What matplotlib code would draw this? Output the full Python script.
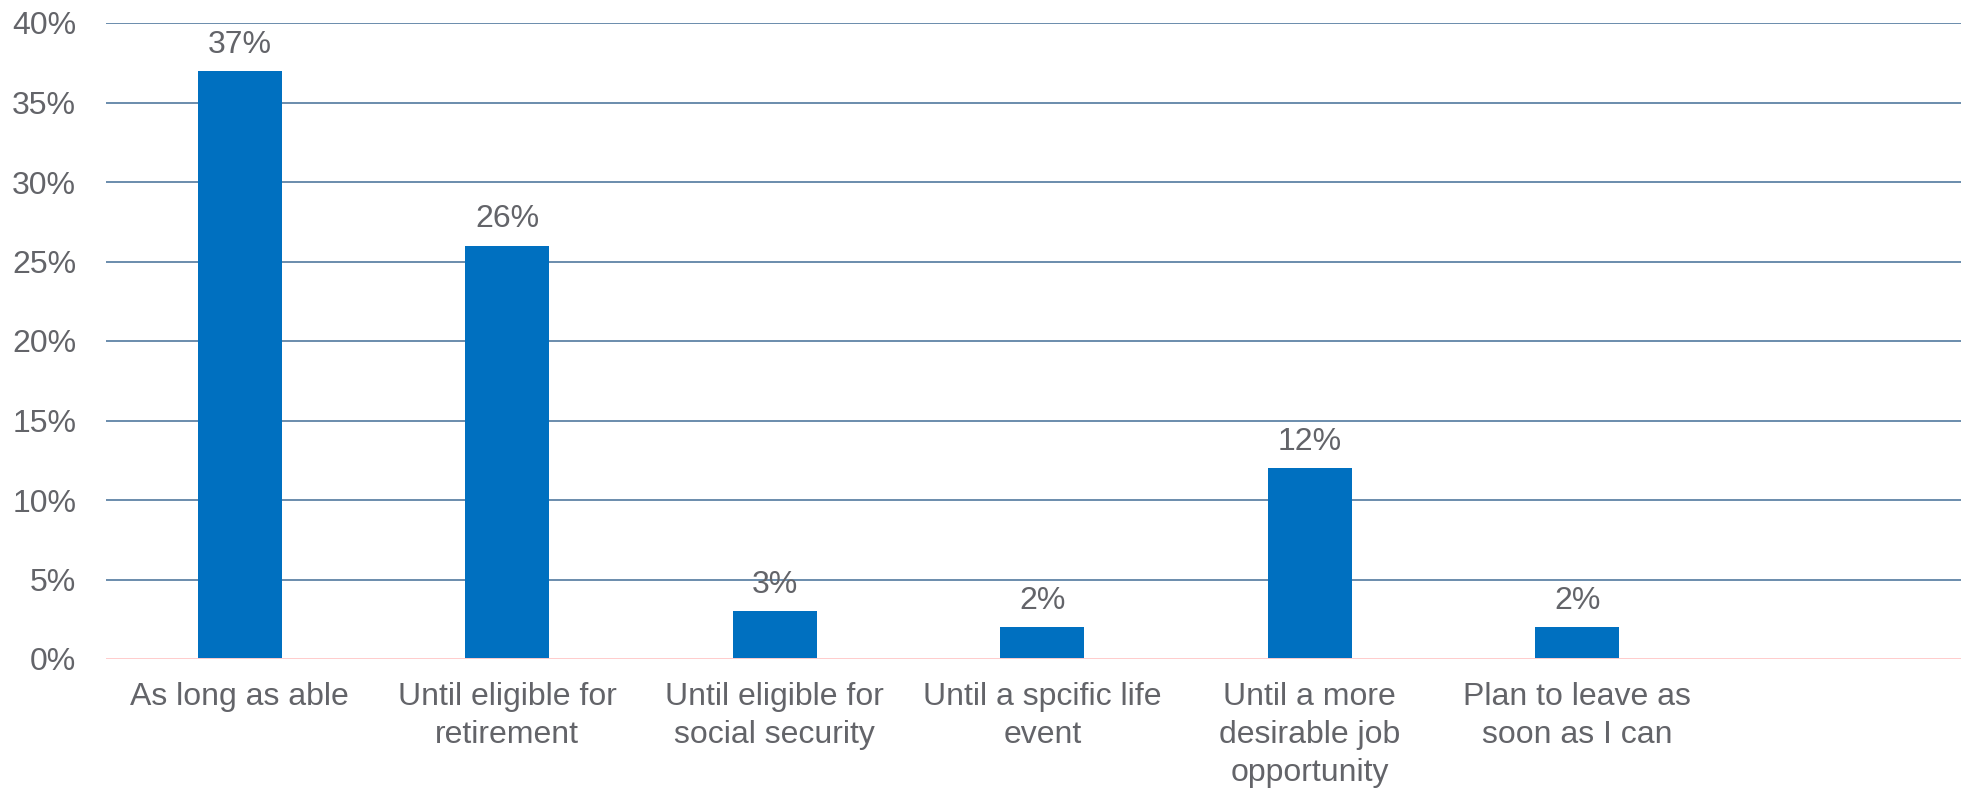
import matplotlib.pyplot as plt

plt.rcParams['font.family'] = ['Liberation Sans', 'DejaVu Sans']

Categories = ['As long as able', 'Until eligible for\nretirement', 'Until eligible for\nsocial security',
              'Until a spcific life\nevent', 'Until a more\ndesirable job\nopportunity',
              'Plan to leave as\nsoon as I can', '']
Values = [37, 26, 3, 2, 12, 2, None]
YTicks = [0, 5, 10, 15, 20, 25, 30, 35, 40]

TextColor = '#636469'
BarColor = '#0070C0'
GridColor = '#6A8CAC'
FontSize = 23

fig = plt.figure(figsize=(19.61, 7.89), dpi=100)
ax = fig.add_axes([106 / 1961, 1 - 659 / 789, 1 - 106 / 1961, (659 - 23) / 789])

x = list(range(len(Categories)))
for i, v in enumerate(Values):
    if v is None:
        continue
    ax.bar(i, v, width=0.314, color=BarColor, zorder=3)
    ax.annotate(f'{v}%', (i, v), xytext=(0, 8), textcoords='offset points',
                ha='center', va='bottom', fontsize=FontSize, color=TextColor)

ax.set_xlim(-0.5, 6.434)
ax.set_ylim(0, 40)
ax.set_yticks(YTicks)
ax.set_yticklabels([f'{t}%' for t in YTicks])
ax.set_xticks(x)
ax.set_xticklabels(Categories, linespacing=1.36)

for t in YTicks[1:]:
    ax.axhline(t, color=GridColor, linewidth=1.4, zorder=1)
ax.axhline(0, color='#FFCCCC', linewidth=1.4, zorder=4)

for s in ax.spines.values():
    s.set_visible(False)
ax.tick_params(axis='both', length=0, labelsize=FontSize, colors=TextColor)
ax.tick_params(axis='y', pad=21.5)
ax.tick_params(axis='x', pad=16.5)

fig.savefig('out.png', dpi=100)
